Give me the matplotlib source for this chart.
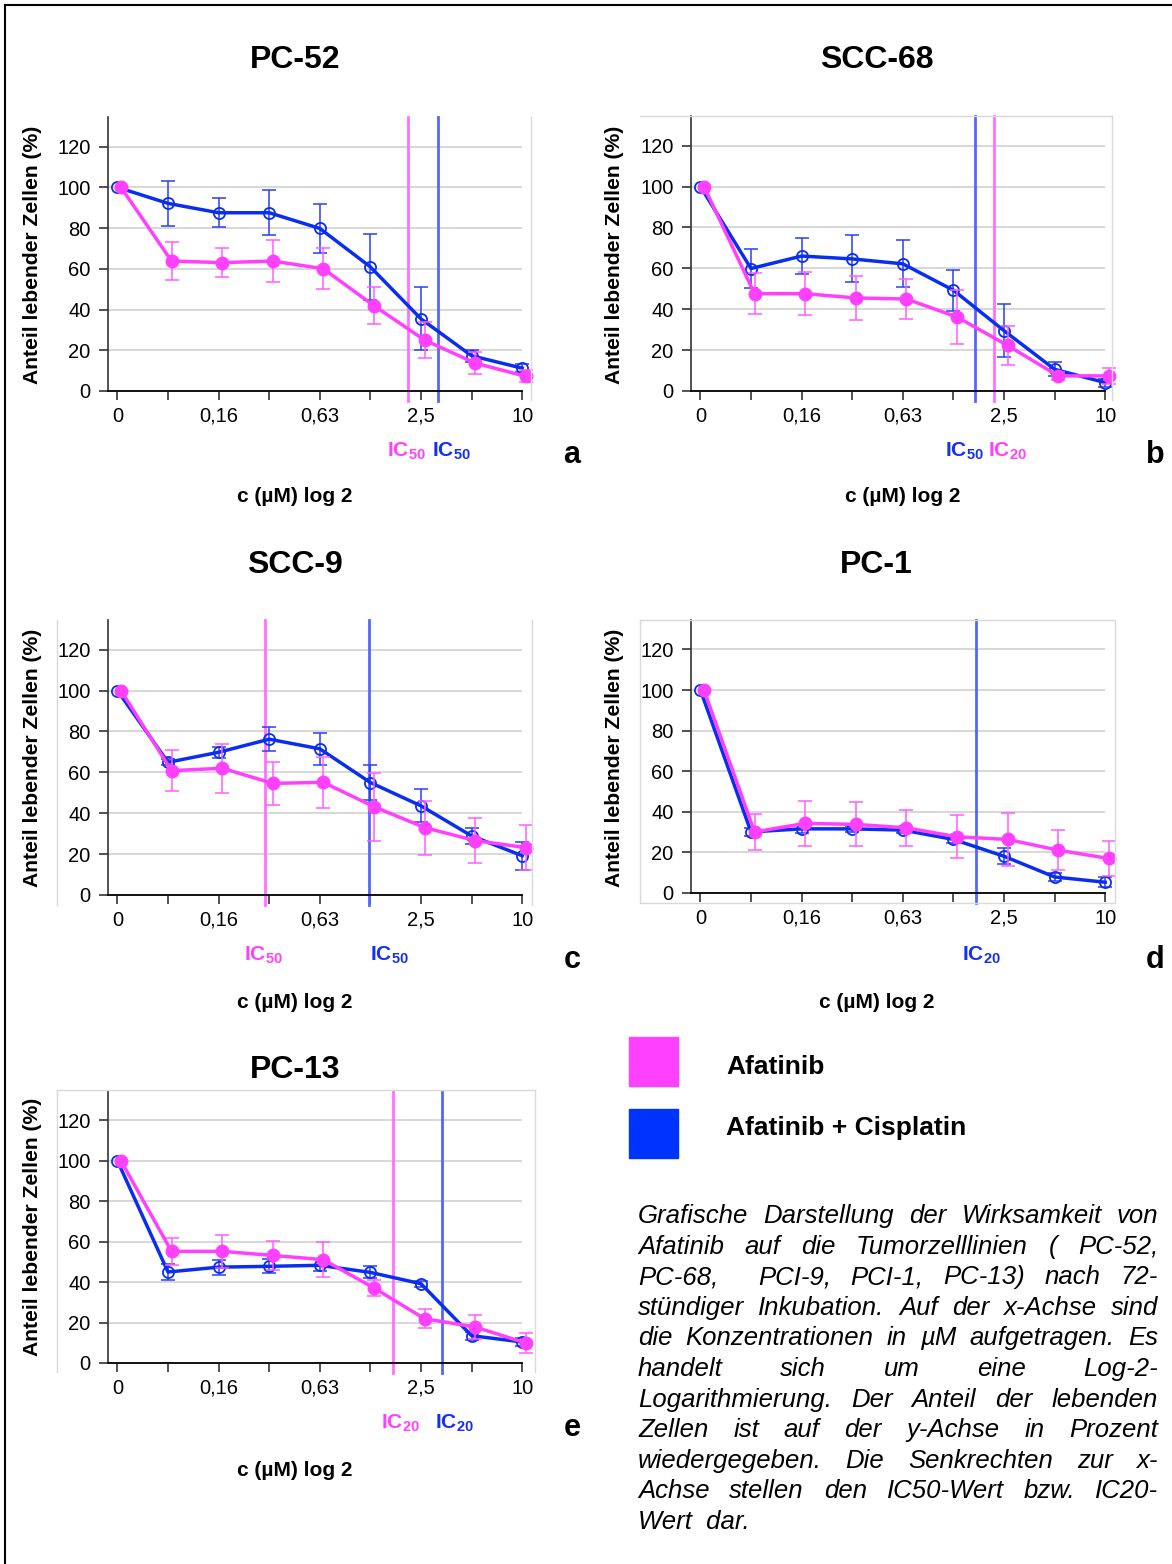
import numpy as np
import matplotlib
matplotlib.use('Agg')
import matplotlib.pyplot as plt
from matplotlib.lines import Line2D
from matplotlib.patches import Rectangle
from matplotlib.font_manager import FontProperties

W, H = 1172, 1564

plt.rcParams['font.family'] = ['Liberation Sans', 'DejaVu Sans']
plt.rcParams['mathtext.fontset'] = 'custom'
plt.rcParams['mathtext.rm'] = 'Liberation Sans'
plt.rcParams['mathtext.bf'] = 'Liberation Sans:bold'

# x-Achse: 9 Konzentrationen (log 2), nur jede zweite beschriftet
conc_labels = ['0', '', '0,16', '', '0,63', '', '2,5', '', '10']

# PC-52 (a)
pc52_afa = [100, 63.8, 63, 63.8, 60, 41.9, 25, 13.7, 7.2]
pc52_afa_err = [0, 9.5, 7, 10.5, 10, 9, 9, 5.5, 3]
pc52_cis = [100, 92.1, 87.5, 87.5, 79.8, 60.9, 35.4, 17.3, 11.2]
pc52_cis_err = [0, 11, 7, 11, 12, 16, 15.5, 3, 2]

# SCC-68 (b)
scc68_afa = [100, 47.6, 47.6, 45.5, 45, 36.2, 22.3, 7.4, 7.4]
scc68_afa_err = [0, 10, 10.5, 10.7, 9.7, 13, 9.6, 2, 4]
scc68_cis = [100, 59.9, 66, 64.6, 62.2, 49.3, 29.5, 10.6, 4.1]
scc68_cis_err = [0, 9.5, 9, 11.5, 11.5, 10, 13, 3.5, 2]

# SCC-9 (c)
scc9_afa = [100, 60.8, 62, 54.6, 55.1, 43.2, 33, 26.6, 23.2]
scc9_afa_err = [0, 10, 12, 10.5, 12.4, 16.7, 13.2, 11, 11]
scc9_cis = [100, 64.9, 69.8, 76.2, 71.5, 55, 43.6, 28.9, 19.2]
scc9_cis_err = [0, 1.5, 2.6, 6, 7.7, 8.5, 8, 3.8, 6.8]

# PC-1 (d)
pc1_afa = [100, 30.1, 34.3, 33.8, 32.1, 27.7, 26.4, 21.1, 17]
pc1_afa_err = [0, 8.7, 11, 10.8, 9, 10.7, 13, 10, 8.5]
pc1_cis = [100, 30.1, 31.6, 31.6, 31, 26.4, 18.1, 7.9, 5.3]
pc1_cis_err = [0, 2, 2, 1.5, 1.5, 2, 4, 2, 2.5]

# PC-13 (e)
pc13_afa = [100, 55.2, 55.2, 53.2, 51.1, 37.1, 21.9, 17.8, 9.9]
pc13_afa_err = [0, 6.5, 8, 7, 8.6, 4, 4.6, 5.8, 5]
pc13_cis = [100, 45, 47.4, 47.8, 48.3, 44.8, 39.2, 13.5, 10.4]
pc13_cis_err = [0, 4, 3.7, 3.5, 3, 3, 1.5, 2, 2]

# IC-Senkrechten (Position auf der x-Achse)
pc52_ic = [(5.75, 'afa'), (6.34, 'cis')]
scc68_ic = [(5.42, 'cis'), (5.80, 'afa')]
scc9_ic = [(2.91, 'afa'), (4.97, 'cis')]
pc1_ic = [(5.45, 'cis')]
pc13_ic = [(5.45, 'afa'), (6.42, 'cis')]

caption_lines = [
    'Grafische Darstellung der Wirksamkeit von',
    'Afatinib auf die Tumorzelllinien ( PC-52,',
    'PC-68,  PCI-9, PCI-1, PC-13) nach 72-',
    'stündiger Inkubation. Auf der x-Achse sind',
    'die Konzentrationen in µM aufgetragen. Es',
    'handelt sich um eine Log-2-',
    'Logarithmierung. Der Anteil der lebenden',
    'Zellen ist auf der y-Achse in Prozent',
    'wiedergegeben. Die Senkrechten zur x-',
    'Achse stellen den IC50-Wert bzw. IC20-',
    'Wert  dar.',
]

PINK = '#ff40ff'
BLUE = '#0a2ef0'
PINK_ERR = '#ff5cff'
BLUE_ERR = '#2a40f0'
PINK_IC = '#ff70ff'
BLUE_IC = '#5565ff'
GRAYF = '#d9d9d9'
STEP = 50.6  # Pixel zwischen zwei Konzentrationen

fig = plt.figure(figsize=(W / 100, H / 100), dpi=100)


def fx(x):
    return x / W


def fy(y):
    return 1 - y / H


def fline(xs, ys, color='black', lw=1.0):
    fig.add_artist(Line2D([fx(v) for v in xs], [fy(v) for v in ys],
                          color=color, lw=lw, transform=fig.transFigure))


def draw_panel(left, top, bottom, afa, afa_err, cis, cis_err, ics):
    # left = Pixel der y-Achse
    right = left + STEP * 8.186
    ax = fig.add_axes([fx(left), fy(bottom), (right - left) / W, (bottom - top) / H])
    x = np.arange(len(afa))
    ax.set_xlim(-0.186, 8)
    ax.set_ylim(0, 134.5)
    ax.set_yticks([0, 20, 40, 60, 80, 100, 120])
    ax.set_xticks(x)
    ax.set_xticklabels(conc_labels)
    ax.yaxis.grid(True, color='#d4d4d4', lw=1.3)
    ax.set_axisbelow(True)
    for s in ['top', 'right']:
        ax.spines[s].set_visible(False)
    ax.spines['left'].set_color('#333333')
    ax.spines['left'].set_linewidth(1.2)
    ax.spines['bottom'].set_color('#111111')
    ax.spines['bottom'].set_linewidth(1.4)
    ax.tick_params(axis='both', length=6.5, width=1.1, color='#222222', labelsize=14.5)
    ax.tick_params(axis='y', pad=6)
    ax.tick_params(axis='x', pad=5)

    # IC-Linien
    for pos, kind in ics:
        c = PINK_IC if kind == 'afa' else BLUE_IC
        ax.plot([pos, pos], [-5, 134.5], color=c, lw=2.0, clip_on=False, zorder=2)

    # Afatinib + Cisplatin (blau, offen)
    xb = x.astype(float)
    cis = np.array(cis)
    cis_err = np.array(cis_err)
    m = cis_err > 0
    eb = ax.errorbar(xb[m], cis[m], yerr=cis_err[m], fmt='none', ecolor=BLUE_ERR,
                     elinewidth=1.1, capsize=5, capthick=1.1, zorder=3)
    for art in eb.get_children():
        art.set_clip_on(False)
    ax.plot(xb, cis, color=BLUE, lw=2.5, marker='o', ms=8, mfc='none', mec=BLUE,
            mew=1.3, clip_on=False, zorder=4)

    # Afatinib (magenta, gefuellt)
    xp = x + 0.07
    afa = np.array(afa)
    afa_err = np.array(afa_err)
    m = afa_err > 0
    eb = ax.errorbar(xp[m], afa[m], yerr=afa_err[m], fmt='none', ecolor=PINK_ERR,
                     elinewidth=1.1, capsize=5, capthick=1.1, zorder=5)
    for art in eb.get_children():
        art.set_clip_on(False)
    ax.plot(xp, afa, color=PINK, lw=2.5, marker='o', ms=9, mfc=PINK, mec=PINK,
            clip_on=False, zorder=6)
    return ax


def label_text(x, y, s, **kw):
    fig.text(fx(x), fy(y), s, ha='center', va='center', **kw)


def ic_text(x, y, kind, num):
    c = PINK if kind == 'afa' else '#1530f0'
    fig.text(fx(x), fy(y), 'IC$_{\\mathbf{' + num + '}}$', ha='center', va='center',
             color=c, fontsize=15, fontweight='bold')


# Rahmen der Seite
fline([5, 5], [5, 1564], lw=1.5)
fline([5, 1172], [5, 5], lw=1.5)

# graue Plotflaechen-Raender
fline([531, 531], [117, 400], GRAYF)
fline([640, 1112], [116, 116], GRAYF)
fline([1112, 1112], [116, 400], GRAYF)
fline([57, 57], [620, 905], GRAYF)
fline([532, 532], [620, 905], GRAYF)
fline([640, 1115, 1115, 640, 640], [620, 620, 903, 903, 620], GRAYF)
fline([57, 535], [1090, 1090], GRAYF)
fline([57, 57], [1090, 1372], GRAYF)
fline([535, 535], [1090, 1372], GRAYF)

draw_panel(108, 117, 391, pc52_afa, pc52_afa_err, pc52_cis, pc52_cis_err, pc52_ic)
draw_panel(691, 116, 391, scc68_afa, scc68_afa_err, scc68_cis, scc68_cis_err, scc68_ic)
draw_panel(108, 620, 895, scc9_afa, scc9_afa_err, scc9_cis, scc9_cis_err, scc9_ic)
draw_panel(691, 620, 893, pc1_afa, pc1_afa_err, pc1_cis, pc1_cis_err, pc1_ic)
draw_panel(108, 1091, 1363, pc13_afa, pc13_afa_err, pc13_cis, pc13_cis_err, pc13_ic)

# Titel
tkw = dict(fontsize=23, fontweight='bold')
label_text(295, 60, 'PC-52', **tkw)
label_text(877, 60, 'SCC-68', **tkw)
label_text(295, 565, 'SCC-9', **tkw)
label_text(876, 565, 'PC-1', **tkw)
label_text(295, 1070, 'PC-13', **tkw)

# Achsentitel
ykw = dict(fontsize=15.2, fontweight='bold', rotation=90)
label_text(33, 255, 'Anteil lebender Zellen (%)', **ykw)
label_text(614, 255, 'Anteil lebender Zellen (%)', **ykw)
label_text(33, 758, 'Anteil lebender Zellen (%)', **ykw)
label_text(614, 758, 'Anteil lebender Zellen (%)', **ykw)
label_text(33, 1227, 'Anteil lebender Zellen (%)', **ykw)

xkw = dict(fontsize=15, fontweight='bold')
label_text(295, 497, 'c (µM) log 2', **xkw)
label_text(903, 497, 'c (µM) log 2', **xkw)
label_text(295, 1002, 'c (µM) log 2', **xkw)
label_text(877, 1002, 'c (µM) log 2', **xkw)
label_text(295, 1470, 'c (µM) log 2', **xkw)

# Buchstaben
lkw = dict(fontsize=22, fontweight='bold')
label_text(572, 455, 'a', **lkw)
label_text(1155, 455, 'b', **lkw)
label_text(572, 960, 'c', **lkw)
label_text(1155, 960, 'd', **lkw)
label_text(572, 1428, 'e', **lkw)

# IC-Beschriftungen
ic_text(406, 451, 'afa', '50')
ic_text(451, 451, 'cis', '50')
ic_text(964, 451, 'cis', '50')
ic_text(1007, 451, 'afa', '20')
ic_text(263, 955, 'afa', '50')
ic_text(389, 955, 'cis', '50')
ic_text(981, 955, 'cis', '20')
ic_text(400, 1423, 'afa', '20')
ic_text(454, 1423, 'cis', '20')

# Legende
fig.add_artist(Rectangle((fx(629), fy(1086)), 49 / W, 49 / H, color='#ff40ff',
                         transform=fig.transFigure))
fig.add_artist(Rectangle((fx(629), fy(1158)), 49 / W, 49 / H, color='#0033ff',
                         transform=fig.transFigure))
fig.text(fx(726), fy(1067), 'Afatinib', ha='left', va='center', fontsize=19, fontweight='bold')
fig.text(fx(726), fy(1128), 'Afatinib + Cisplatin', ha='left', va='center', fontsize=19,
         fontweight='bold')

# Bildunterschrift im Blocksatz
renderer = fig.canvas.get_renderer()
fp = FontProperties(family='Liberation Sans', style='italic', size=18.5)
x0, x1 = 638, 1158
for i, line in enumerate(caption_lines):
    ybase = 1215 + i * 30.6 + 8
    if i == len(caption_lines) - 1:
        fig.text(fx(x0), fy(ybase), line, ha='left', va='baseline', fontproperties=fp)
        continue
    words = line.split(' ')
    widths = [renderer.get_text_width_height_descent(w, fp, ismath=False)[0] if w else 0
              for w in words]
    gap = (x1 - x0 - sum(widths)) / (len(words) - 1)
    xpos = x0
    for w, wd in zip(words, widths):
        if w:
            fig.text(fx(xpos), fy(ybase), w, ha='left', va='baseline', fontproperties=fp)
        xpos += wd + gap

fig.savefig('out.png', dpi=100)
